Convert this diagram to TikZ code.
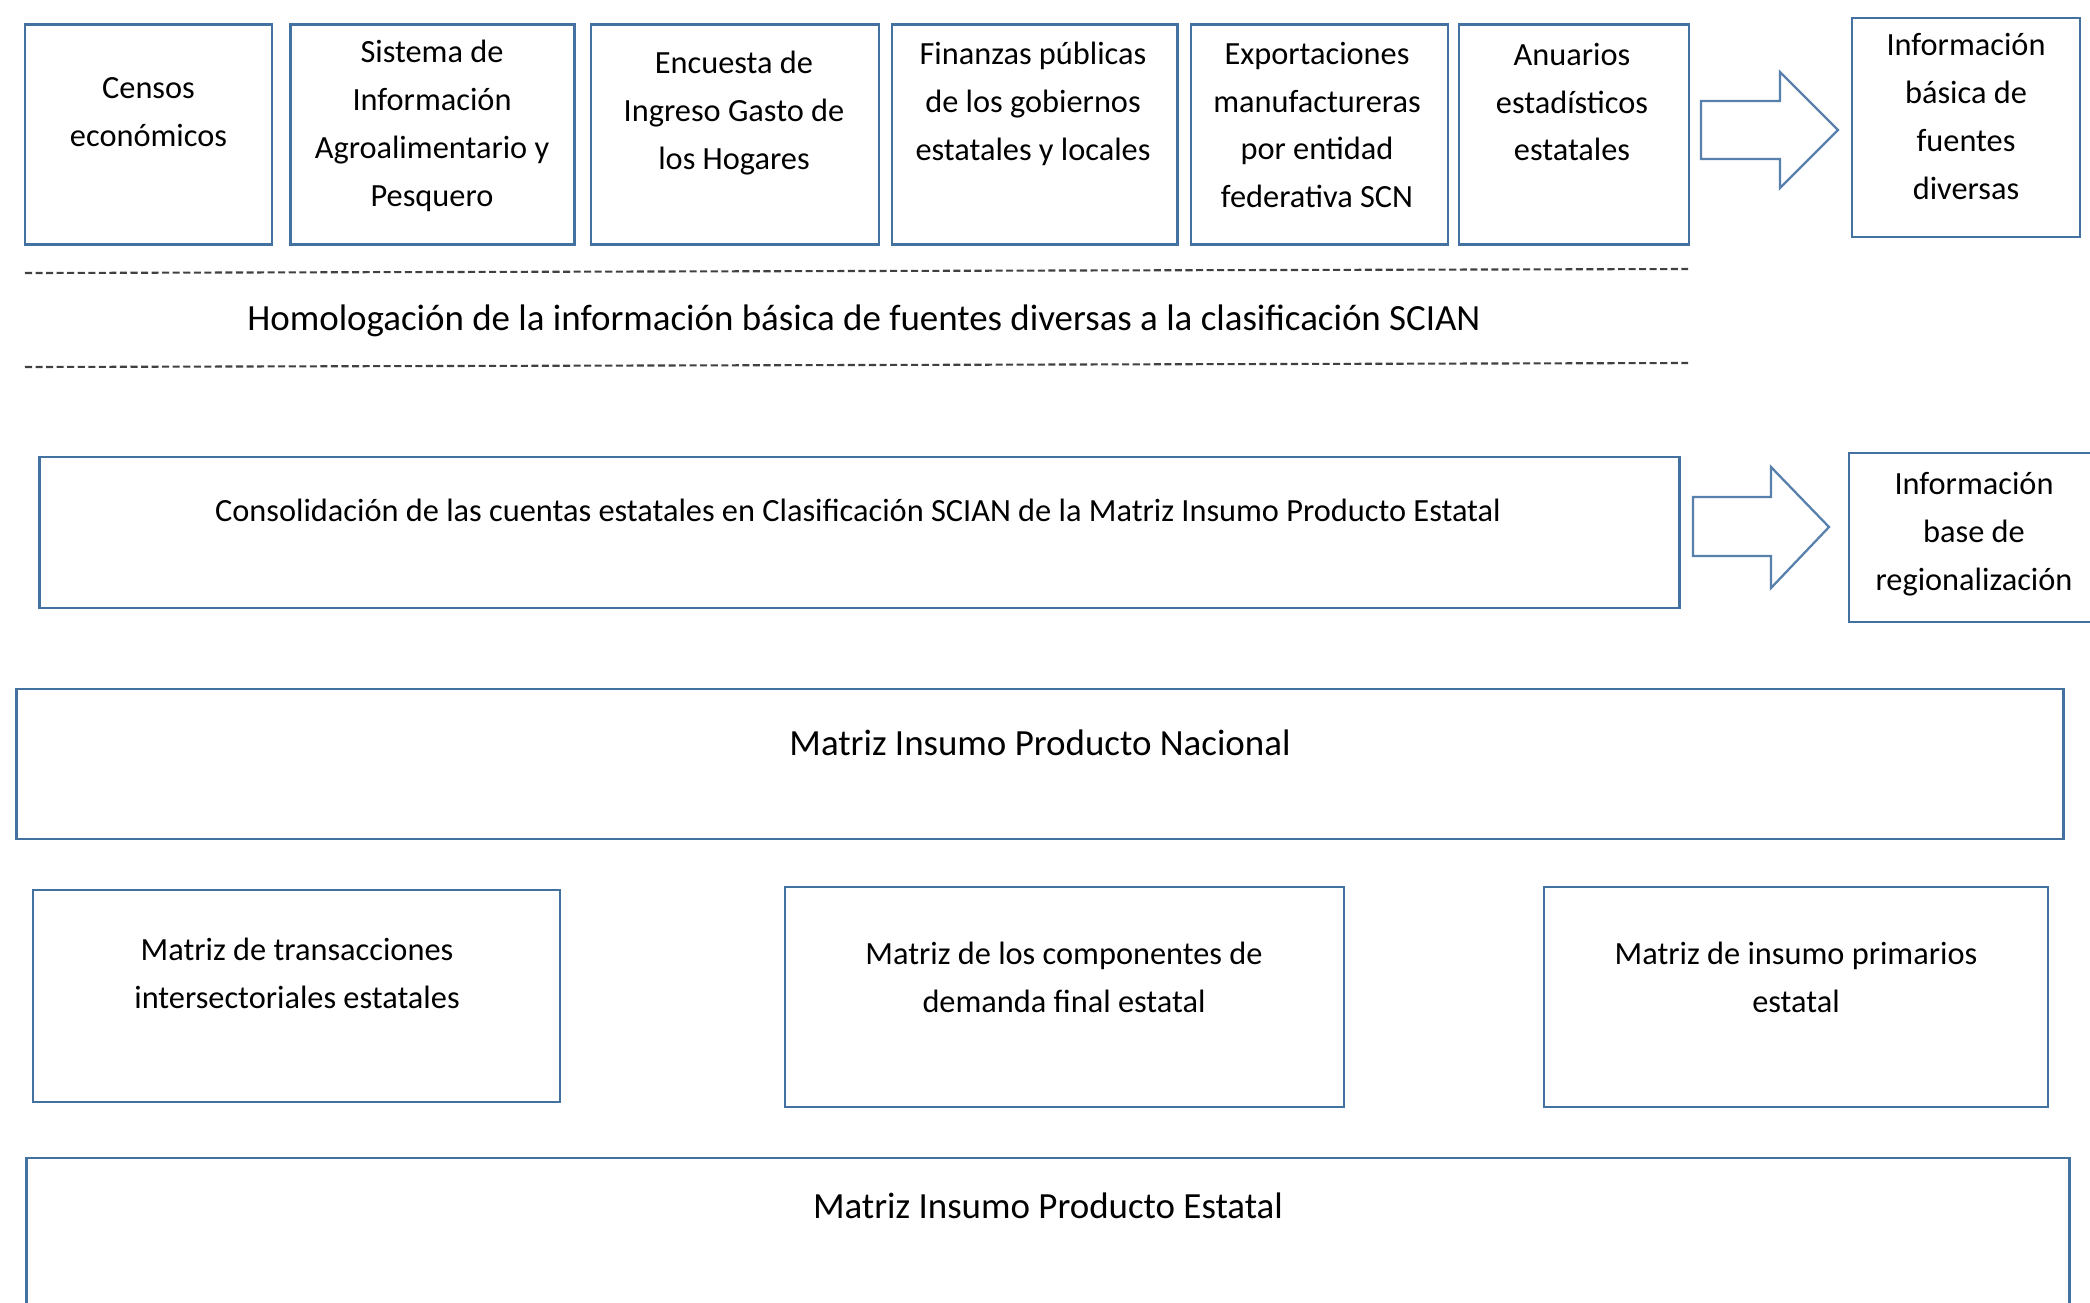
\documentclass[tikz,border=0pt]{standalone}
\usepackage{fontspec}
\setmainfont{Carlito}
\usepackage{tikz}
\usetikzlibrary{calc}
\usetikzlibrary{positioning}
\definecolor{borde}{RGB}{68,114,160}
\definecolor{flecha}{RGB}{88,128,172}

\begin{document}
\begin{tikzpicture}[x=0.01cm,y=-0.01cm,semithick]
 	\tikzstyle{caja}=[draw=borde, line width=0.65pt, rectangle, inner sep=0pt]
 	\tikzstyle{txt}=[align=center, inner sep=0pt, font=\fontsize{9.2}{13.6}\selectfont]
 	\tikzstyle{txtg}=[align=center, inner sep=0pt, font=\fontsize{10.5}{13.6}\selectfont]
 	\tikzstyle{bloque}=[draw=flecha, line width=0.65pt, fill=white, line join=miter]
 	\tikzstyle{guiones}=[draw=black!75, line width=0.6pt, dash pattern=on 2pt off 1pt]
 	\useasboundingbox (0,0) rectangle (2090,1302);
 	% fuentes de informacion
 	\node[caja, minimum width=2.47cm, minimum height=2.2cm] (censos) at (148.5,134.5) {};
 	\node[caja, minimum width=2.84cm, minimum height=2.2cm] (sistema) [right=0.16cm of censos] {};
 	\node[caja, minimum width=2.88cm, minimum height=2.2cm] (encuesta) [right=0.14cm of sistema] {};
 	\node[caja, minimum width=2.85cm, minimum height=2.2cm] (finanzas) [right=0.11cm of encuesta] {};
 	\node[caja, minimum width=2.57cm, minimum height=2.2cm] (export) [right=0.11cm of finanzas] {};
 	\node[caja, minimum width=2.30cm, minimum height=2.2cm] (anuarios) [right=0.09cm of export] {};
 	\node[caja, minimum width=2.28cm, minimum height=2.19cm] (infobas) at (1966,127.5) {};
 	\node[txt] (tcensos) at (148.5,112) {Censos\\económicos};
 	\node[txt] (tsistema) at (432,126) {Sistema de\\Información\\Agroalimentario y\\Pesquero};
 	\node[txt] (tencuesta) at (734,113) {Encuesta de\\Ingreso Gasto de\\los Hogares};
 	\node[txt] (tfinanzas) at (1033,104) {Finanzas públicas\\de los gobiernos\\estatales y locales};
 	\node[txt] (texport) at (1317,125) {Exportaciones\\manufactureras\\por entidad\\federativa SCN};
 	\node[txt] (tanuarios) at (1572,102) {Anuarios\\estadísticos\\estatales};
 	\node[txt] (tinfobas) at (1966,116.5) {Información\\básica de\\fuentes\\diversas};
 	\draw[bloque] (1701,101) -- (1780,101) -- (1780,72) -- (1838,130) -- (1780,188) -- (1780,159) -- (1701,159) -- cycle;
 	% homologacion
 	\coordinate (g1a) at (25,273);
 	\coordinate (g1b) at (1688,269);
 	\coordinate (g2a) at (25,367);
 	\coordinate (g2b) at (1688,363);
 	\draw[guiones] (g1a) -- (g1b);
 	\draw[guiones] (g2a) -- (g2b);
 	\node[txtg] (homolog) at (864,321) {Homologación de la información básica de fuentes diversas a la clasificación SCIAN};
 	% consolidacion
 	\node[caja, minimum width=16.39cm, minimum height=1.51cm] (consol) at (859.5,532.5) {};
 	\node[txt] (tconsol) at (858,510) {Consolidación de las cuentas estatales en Clasificación SCIAN de la Matriz Insumo Producto Estatal};
 	\draw[bloque] (1693,497) -- (1771,497) -- (1771,467) -- (1829,527) -- (1771,588) -- (1771,556) -- (1693,556) -- cycle;
 	\node[caja, minimum width=2.51cm, minimum height=1.69cm] (infobase) at (1974.5,537.5) {};
 	\node[txt] (tinfobase) at (1974,534) {Información\\base de\\regionalización};
 	% matrices
 	\node[caja, minimum width=20.46cm, minimum height=1.5cm] (nacional) at (1040,764) {};
 	\node[txtg] (tnacional) at (1040,743) {Matriz Insumo Producto Nacional};
 	\node[caja, minimum width=5.27cm, minimum height=2.12cm] (transac) at (296.5,996) {};
 	\node[caja, minimum width=5.59cm, minimum height=2.2cm] (compon) at (1064.5,997) {};
 	\node[caja, minimum width=5.04cm, minimum height=2.2cm] (primar) at (1796,997) {};
 	\node[txt] (ttransac) at (297,973) {Matriz de transacciones\\intersectoriales estatales};
 	\node[txt] (tcompon) at (1064,977) {Matriz de los componentes de\\demanda final estatal};
 	\node[txt] (tprimar) at (1796,977) {Matriz de insumo primarios\\estatal};
 	\node[caja, minimum width=20.42cm, minimum height=1.62cm] (estatal) at (1048,1239) {};
 	\node[txtg] (testatal) at (1048,1206) {Matriz Insumo Producto Estatal};
\end{tikzpicture}
\end{document}
